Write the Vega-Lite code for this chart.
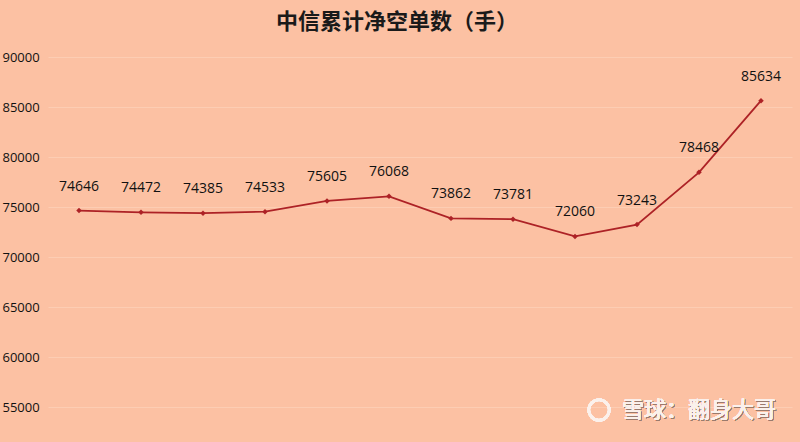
{
  "$schema": "https://vega.github.io/schema/vega-lite/v6.json",
  "autosize": "none",
  "width": 744,
  "height": 385,
  "padding": {"left": 48, "top": 57, "right": 8, "bottom": 0},
  "background": "#FCC1A3",
  "config": {"view": {"stroke": null}},
  "title": {
    "text": "中信累计净空单数（手）",
    "font": "Noto Sans CJK SC",
    "fontSize": 22,
    "fontWeight": "bold",
    "color": "#1a1a1a",
    "anchor": "middle",
    "frame": "bounds",
    "offset": 17
  },
  "data": {
    "values": [
      {"period": 1, "value": 74646},
      {"period": 2, "value": 74472},
      {"period": 3, "value": 74385},
      {"period": 4, "value": 74533},
      {"period": 5, "value": 75605},
      {"period": 6, "value": 76068},
      {"period": 7, "value": 73862},
      {"period": 8, "value": 73781},
      {"period": 9, "value": 72060},
      {"period": 10, "value": 73243},
      {"period": 11, "value": 78468},
      {"period": 12, "value": 85634}
    ]
  },
  "encoding": {
    "x": {
      "field": "period",
      "type": "ordinal",
      "scale": {"type": "point", "padding": 0.5},
      "axis": null
    },
    "y": {
      "field": "value",
      "type": "quantitative",
      "scale": {"domain": [51500, 90000], "nice": false, "zero": false},
      "axis": {
        "title": null,
        "values": [55000, 60000, 65000, 70000, 75000, 80000, 85000, 90000],
        "format": "d",
        "domain": false,
        "ticks": false,
        "tickSize": 0,
        "labelAlign": "left",
        "labelPadding": 46,
        "labelFont": "Open Sans",
        "labelFontSize": 13,
        "labelColor": "#111111",
        "gridColor": "#FDCDB3",
        "gridWidth": 1
      }
    }
  },
  "layer": [
    {
      "mark": {"type": "line", "color": "#AD2226", "strokeWidth": 1.8}
    },
    {
      "mark": {"type": "point", "shape": "diamond", "filled": true, "color": "#AD2226", "size": 30, "opacity": 1}
    },
    {
      "mark": {"type": "text", "dy": -24, "font": "Open Sans", "fontSize": 14, "color": "#111111"},
      "encoding": {"text": {"field": "value", "type": "quantitative", "format": "d"}}
    },
    {
      "mark": {"type": "text", "font": "Noto Sans CJK SC", "fontSize": 22, "color": "#9a7a6c", "dx": 1, "dy": 1, "align": "center", "baseline": "middle"},
      "encoding": {"x": {"datum": 11}, "y": {"datum": 54700}, "text": {"value": "雪球：翻身大哥"}}
    },
    {
      "mark": {"type": "text", "font": "Noto Sans CJK SC", "fontSize": 22, "color": "#FBF1EC", "align": "center", "baseline": "middle"},
      "encoding": {"x": {"datum": 11}, "y": {"datum": 54700}, "text": {"value": "雪球：翻身大哥"}}
    },
    {
      "mark": {"type": "point", "shape": "circle", "filled": false, "color": "#FBF1EC", "strokeWidth": 2.5, "size": 420, "xOffset": -100, "opacity": 1},
      "encoding": {"x": {"datum": 11}, "y": {"datum": 54700}}
    }
  ]
}
